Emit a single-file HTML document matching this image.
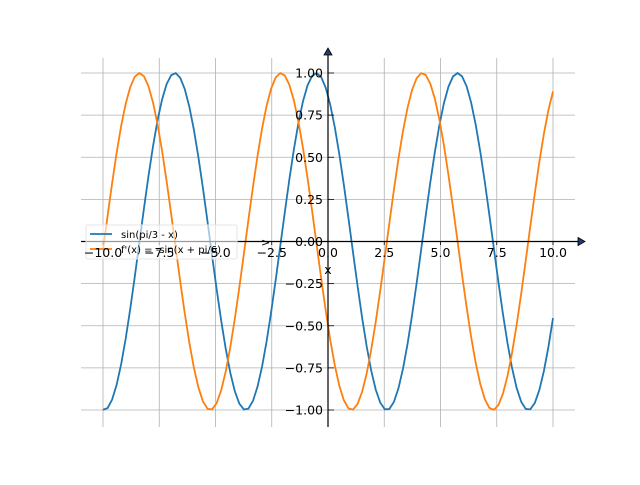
<!DOCTYPE html>
<html><head><meta charset="utf-8"><style>
body{margin:0;background:#fff}
svg text{font-family:"DejaVu Sans","Liberation Sans",sans-serif;font-size:12.5px;fill:#000}
</style></head><body>
<svg id="s" width="640" height="480" xmlns="http://www.w3.org/2000/svg">
<g id="grid" stroke="#b0b0b0" stroke-width="0.8"></g>
<g id="curves" fill="none" stroke-width="1.8"></g>
<line x1="81" y1="241.5" x2="582" y2="241.5" stroke="#000" stroke-width="1.2"/>
<line x1="328" y1="427" x2="328" y2="52" stroke="#000" stroke-width="1.2"/>
<path d="M578,237.5 L585,241.5 L578,245.5 Z" fill="#1f3d6e" stroke="#000" stroke-width="0.8"/>
<path d="M324,55 L328,48 L332,55 Z" fill="#1f3d6e" stroke="#000" stroke-width="0.8"/>
<g id="ticks" stroke="#000" stroke-width="0.8"></g>
<rect x="86" y="225" width="151" height="34" fill="#fff" fill-opacity="0.6" stroke="#e4e4e4" rx="2"/>
<line x1="90" y1="234" x2="112" y2="234" stroke="#1f77b4" stroke-width="1.8"/>
<line x1="90" y1="249" x2="112" y2="249" stroke="#ff7f0e" stroke-width="1.8"/>
<text x="121" y="238" style="font-size:10px">sin(pi/3 - x)</text>
<text x="121" y="253" style="font-size:10px">f'(x) = -sin(x + pi/6)</text>
<g id="labels"></g>
<text x="328" y="274" text-anchor="middle">x</text>
<text x="261" y="246" style="font-size:11px">&gt;</text>
</svg>
<script>
var X=function(v){return 328+v*22.5},Y=function(v){return 241.5-v*168.5};
var g=document.getElementById('grid'),t=document.getElementById('ticks'),L=document.getElementById('labels');
var ns='http://www.w3.org/2000/svg';
function el(p,n,a,txt){var e=document.createElementNS(ns,n);for(var k in a)e.setAttribute(k,a[k]);if(txt)e.textContent=txt;p.appendChild(e);return e;}
for(var v=-10;v<=10;v+=2.5){var x=X(v);el(g,'line',{x1:x,x2:x,y1:58,y2:427});el(t,'line',{x1:x,x2:x,y1:241.5,y2:245});
el(L,'text',{x:x,y:257,'text-anchor':'middle'},(v<0?'\u2212':'')+Math.abs(v).toFixed(1));}
for(var v=-1;v<=1.001;v+=0.25){var y=Y(v);el(g,'line',{x1:81,x2:575,y1:y,y2:y});el(t,'line',{x1:328,x2:334,y1:y,y2:y});
el(L,'text',{x:323,y:y+4.5,'text-anchor':'end'},(v<-0.001?'\u2212':'')+Math.abs(v).toFixed(2));}
var c=document.getElementById('curves');
function curve(f,col){var p=[];for(var i=0;i<100;i++){var xv=-10+20*i/99;p.push(X(xv).toFixed(2)+','+Y(f(xv)).toFixed(2));}
el(c,'polyline',{points:p.join(' '),stroke:col});}
curve(function(x){return Math.sin(Math.PI/3-x)},'#1f77b4');
curve(function(x){return -Math.sin(x+Math.PI/6)},'#ff7f0e');
</script>
</body></html>
